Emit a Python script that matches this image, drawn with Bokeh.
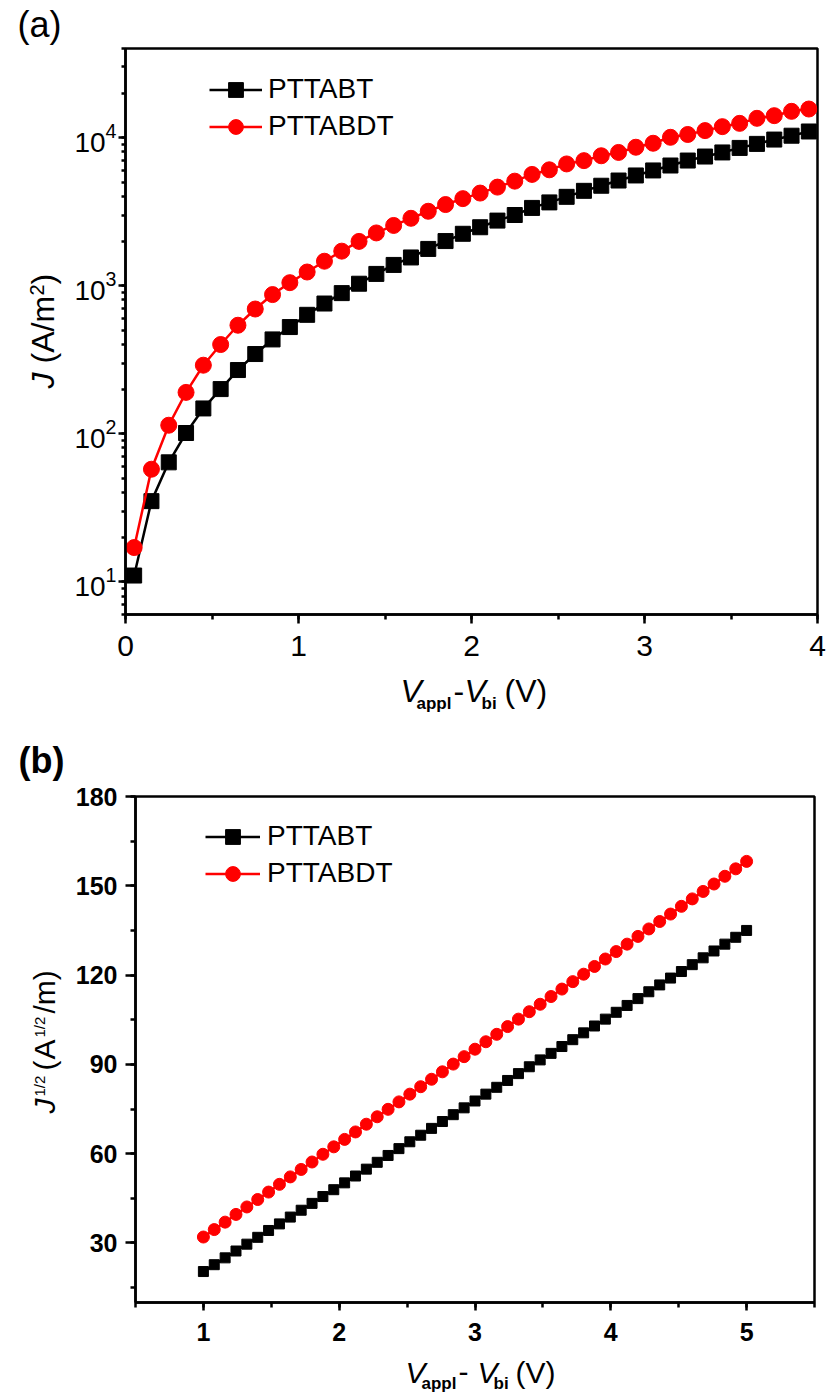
from math import pi
from bokeh.plotting import figure
from bokeh.layouts import column, row
from bokeh.models import (Range1d, SingleIntervalTicker, LogTicker, Label,
                          Legend, LegendItem)
from bokeh.embed import file_html
from bokeh.resources import INLINE

FONT = "Liberation Sans"

# ---------------- data: panel (a) ----------------
xa = [0.05, 0.15, 0.25, 0.35, 0.45, 0.55, 0.65, 0.75, 0.85, 0.95,
      1.05, 1.15, 1.25, 1.35, 1.45, 1.55, 1.65, 1.75, 1.85, 1.95,
      2.05, 2.15, 2.25, 2.35, 2.45, 2.55, 2.65, 2.75, 2.85, 2.95,
      3.05, 3.15, 3.25, 3.35, 3.45, 3.55, 3.65, 3.75, 3.85, 3.95]
ja_pttabt = [11, 35, 64, 101, 148, 200, 269, 345, 433, 525,
             635, 757, 890, 1030, 1200, 1380, 1550, 1770, 2000, 2240,
             2480, 2750, 3000, 3350, 3650, 3980, 4370, 4730, 5130, 5550,
             6000, 6480, 7000, 7450, 7940, 8520, 9070, 9700, 10300, 11000]
ja_pttabdt = [17, 57.5, 114, 190, 290, 400, 540, 695, 870, 1047,
              1236, 1462, 1710, 1990, 2270, 2550, 2850, 3180, 3530, 3870,
              4220, 4630, 5080, 5640, 6060, 6640, 6990, 7540, 7940, 8610,
              9160, 10050, 10500, 11150, 11860, 12480, 13500, 14070, 15050, 15600]

# ---------------- data: panel (b) ----------------
xb = [1.00, 1.08, 1.16, 1.24, 1.32, 1.40, 1.48, 1.56, 1.64, 1.72,
      1.80, 1.88, 1.96, 2.04, 2.12, 2.20, 2.28, 2.36, 2.44, 2.52,
      2.60, 2.68, 2.76, 2.84, 2.92, 3.00, 3.08, 3.16, 3.24, 3.32,
      3.40, 3.48, 3.56, 3.64, 3.72, 3.80, 3.88, 3.96, 4.04, 4.12,
      4.20, 4.28, 4.36, 4.44, 4.52, 4.60, 4.68, 4.76, 4.84, 4.92,
      5.00]
jb_pttabt = [20.4, 22.7, 25.0, 27.3, 29.6, 31.9, 34.2, 36.4, 38.7, 41.0,
             43.3, 45.6, 47.9, 50.2, 52.5, 54.8, 57.1, 59.4, 61.7, 64.0,
             66.2, 68.5, 70.8, 73.1, 75.4, 77.7, 80.0, 82.3, 84.6, 86.9,
             89.2, 91.5, 93.7, 96.0, 98.3, 100.6, 102.9, 105.2, 107.5, 109.8,
             112.1, 114.4, 116.7, 119.0, 121.2, 123.5, 125.8, 128.1, 130.4, 132.7,
             135.0]
jb_pttabdt = [32.0, 34.5, 37.0, 39.6, 42.1, 44.6, 47.1, 49.7, 52.2, 54.7,
              57.2, 59.8, 62.3, 64.8, 67.3, 69.9, 72.4, 74.9, 77.4, 80.0,
              82.5, 85.0, 87.5, 90.1, 92.6, 95.1, 97.6, 100.1, 102.7, 105.2,
              107.7, 110.2, 112.8, 115.3, 117.8, 120.3, 122.9, 125.4, 127.9, 130.4,
              133.0, 135.5, 138.0, 140.5, 143.1, 145.6, 148.1, 150.6, 153.2, 155.7,
              158.2]

series_names = ["PTTABT", "PTTABDT"]
series_colors = ["black", "#ff0000"]


def style_axis(ax, size, bold, tick_out, minor_out, standoff):
    ax.axis_line_width = 2.5
    ax.axis_line_color = "black"
    ax.major_tick_line_width = 2.5
    ax.minor_tick_line_width = 2.5
    ax.major_tick_line_color = "black"
    ax.minor_tick_line_color = "black"
    ax.major_tick_in = 0
    ax.major_tick_out = tick_out
    ax.minor_tick_in = 0
    ax.minor_tick_out = minor_out
    ax.major_label_standoff = standoff
    ax.major_label_text_font = FONT
    ax.major_label_text_font_size = f"{size}px"
    ax.major_label_text_font_style = "bold" if bold else "normal"
    ax.major_label_text_color = "black"


def text_fig(width, height):
    # a plain canvas that only carries text labels
    p = figure(width=width, height=height, x_range=Range1d(0, 1), y_range=Range1d(0, 1),
               x_axis_type=None, y_axis_type=None, output_backend="svg",
               toolbar_location=None, min_border=0)
    p.grid.visible = False
    p.outline_line_color = None
    p.background_fill_color = "white"
    p.border_fill_color = "white"
    return p


def add_text(p, frame_left, frame_bottom, px, py, text, size, style="normal", vertical=False):
    # (px, py): page position of the text start on its baseline
    shift = 0.35 * size  # baseline -> middle of the text box
    if vertical:
        ax, ay, ang = px - shift, py, pi / 2
    else:
        ax, ay, ang = px, py - shift, 0.0
    p.add_layout(Label(x=ax - frame_left, y=frame_bottom - ay, x_units="screen", y_units="screen",
                       text=text, text_font=FONT, text_font_size=f"{size}px",
                       text_font_style=style, text_color="black",
                       text_align="left", text_baseline="middle", angle=ang))


def main_fig(width, height, left, right, top, bottom, x_range, y_range, y_type="linear"):
    p = figure(width=width, height=height, x_range=x_range, y_range=y_range,
               y_axis_type=y_type, output_backend="svg", toolbar_location=None,
               min_border_left=left, min_border_right=right,
               min_border_top=top, min_border_bottom=bottom)
    p.xgrid.visible = False
    p.ygrid.visible = False
    p.outline_line_color = "black"
    p.outline_line_width = 2.5
    p.background_fill_color = "white"
    p.border_fill_color = "white"
    return p


def make_legend(renderers, vx, vy, glyph_w, standoff):
    return Legend(items=[LegendItem(label=series_names[i], renderers=renderers[i]) for i in range(2)],
                  location=(vx, vy), padding=0, margin=0, spacing=0,
                  glyph_width=glyph_w, glyph_height=37, label_height=37,
                  label_standoff=standoff,
                  label_text_font=FONT, label_text_font_size="28px",
                  label_text_color="black",
                  border_line_alpha=0, background_fill_alpha=0)


# ================= panel (a) =================
# page rows: title strip y 0..47 | (y-label strip x 0..70 + main x 70..826) y 47..672 | x-label strip y 672..725
# main frame: left 125, right 817, top 48, bottom 614
FLa, FBa = 125, 614
p1 = main_fig(756, 625, 55, 9, 1, 58, Range1d(0, 4), Range1d(6, 40000), "log")
p1.xaxis.ticker = SingleIntervalTicker(interval=1, num_minor_ticks=2)
p1.yaxis.ticker = LogTicker(num_minor_ticks=10)
style_axis(p1.xaxis[0], 30, False, 9, 5, 12)
style_axis(p1.yaxis[0], 28, False, 7, 4, 2)

ra = []
for ys, col, mk, ms in [(ja_pttabt, series_colors[0], "square", 15),
                        (ja_pttabdt, series_colors[1], "circle", 16)]:
    rl = p1.line(xa, ys, line_color=col, line_width=2.5)
    rs = p1.scatter(xa, ys, marker=mk, size=ms, fill_color=col, line_color=col)
    ra.append([rl, rs])
# legend rows centred at page y 89 / 126 -> box top 70.5, bottom 144.5
p1.add_layout(make_legend(ra, 209 - FLa, FBa - 144.5, 53, 6))

ta_top = text_fig(826, 47)
add_text(ta_top, 0, 47, 17, 37, "(a)", 36)

ta_left = text_fig(70, 625)   # its frame lines up with the main frame (bottom at page 614)
add_text(ta_left, 0, FBa, 54, 388, "J", 32, "italic", True)
add_text(ta_left, 0, FBa, 54, 363, "(A/m", 32, "normal", True)
add_text(ta_left, 0, FBa, 43, 295, "2", 20, "normal", True)
add_text(ta_left, 0, FBa, 54, 284, ")", 32, "normal", True)

ta_bottom = text_fig(826, 53)
add_text(ta_bottom, 0, 725, 400, 702, "V", 32, "italic")
add_text(ta_bottom, 0, 725, 416, 709, "appl", 17, "bold")
add_text(ta_bottom, 0, 725, 453, 702, "-", 32)
add_text(ta_bottom, 0, 725, 464, 702, "V", 32, "italic")
add_text(ta_bottom, 0, 725, 481, 709, "bi", 17, "bold")
add_text(ta_bottom, 0, 725, 504, 702, "(V)", 32)

# ================= panel (b) =================
# page rows: title strip y 725..781 | (y-label strip x 0..72 + main x 72..826) y 781..1354 | x-label strip y 1354..1396
# main frame: left 133, right 814, top 796, bottom 1302
FLb, FBb = 133, 1302
p2 = main_fig(754, 573, 61, 12, 15, 52, Range1d(0.5, 5.5), Range1d(10, 180))
p2.xaxis.ticker = SingleIntervalTicker(interval=1, num_minor_ticks=2)
p2.yaxis.ticker = SingleIntervalTicker(interval=30, num_minor_ticks=2)
style_axis(p2.xaxis[0], 25, True, 8, 5, 12)
style_axis(p2.yaxis[0], 25, True, 10, 5, 8)

rb = []
for ys, col, mk, ms in [(jb_pttabt, series_colors[0], "square", 10),
                        (jb_pttabdt, series_colors[1], "circle", 12)]:
    rl = p2.line(xb, ys, line_color=col, line_width=2.5)
    rs = p2.scatter(xb, ys, marker=mk, size=ms, fill_color=col, line_color=col)
    rb.append([rl, rs])
# legend rows centred at page y 836 / 873 -> box top 817.5, bottom 891.5
p2.add_layout(make_legend(rb, 203 - FLb, FBb - 891.5, 55, 7))

tb_top = text_fig(826, 56)
add_text(tb_top, 0, 781, 18, 773, "(b)", 36, "bold")

tb_left = text_fig(72, 573)   # frame lines up with the main frame (bottom at page 1302)
add_text(tb_left, 0, FBb, 54, 1113, "J", 30, "italic", True)
add_text(tb_left, 0, FBb, 44, 1096, "1/2", 15, "normal", True)
add_text(tb_left, 0, FBb, 54, 1070, "(", 30, "normal", True)
add_text(tb_left, 0, FBb, 54, 1059, "A", 30, "normal", True)
add_text(tb_left, 0, FBb, 44, 1037, "1/2", 15, "normal", True)
add_text(tb_left, 0, FBb, 54, 1013, "/m)", 30, "normal", True)

tb_bottom = text_fig(826, 42)
add_text(tb_bottom, 0, 1396, 405, 1382, "V", 30, "italic")
add_text(tb_bottom, 0, 1396, 421, 1389, "appl", 17, "bold")
add_text(tb_bottom, 0, 1396, 458, 1382, "-", 30)
add_text(tb_bottom, 0, 1396, 477, 1382, "V", 30, "italic")
add_text(tb_bottom, 0, 1396, 493, 1389, "bi", 17, "bold")
add_text(tb_bottom, 0, 1396, 515, 1382, "(V)", 30)

layout = column(ta_top, row(ta_left, p1), ta_bottom,
                tb_top, row(tb_left, p2), tb_bottom)
open("out.html", "w").write(file_html(layout, INLINE))
